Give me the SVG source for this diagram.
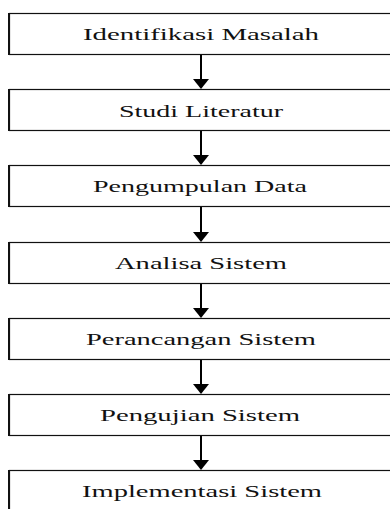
<svg xmlns="http://www.w3.org/2000/svg" width="390" height="509" viewBox="0 0 390 509">
<defs>
<style>
.box{fill:#fff;stroke:#111;stroke-width:1.2}
.edge{stroke:#111;stroke-width:2}
.lbl{font-family:"Liberation Serif","Times New Roman",serif;font-size:16px;fill:#111;text-anchor:middle}
.conn{stroke:#000;stroke-width:2;fill:none}
</style>
<marker id="ah" viewBox="0 -8 10 16" refX="0" refY="0" markerWidth="10" markerHeight="16" markerUnits="userSpaceOnUse" orient="auto">
<path d="M0,-8 L10,0 L0,8 z" fill="#000"/>
</marker>
</defs>
<rect width="390" height="509" fill="#fff"/>
<g id="connectors">
<line class="conn" x1="201" y1="54" x2="201" y2="79" marker-end="url(#ah)"/>
<line class="conn" x1="201" y1="130" x2="201" y2="155" marker-end="url(#ah)"/>
<line class="conn" x1="201" y1="206" x2="201" y2="232" marker-end="url(#ah)"/>
<line class="conn" x1="201" y1="283" x2="201" y2="308" marker-end="url(#ah)"/>
<line class="conn" x1="201" y1="359" x2="201" y2="384" marker-end="url(#ah)"/>
<line class="conn" x1="201" y1="435" x2="201" y2="460" marker-end="url(#ah)"/>
</g>
<g id="n1"><rect class="box" x="9.5" y="13.5" width="400" height="41"/><line class="edge" x1="9" y1="13" x2="9" y2="55"/><text class="lbl" x="201" y="39.5" textLength="236" lengthAdjust="spacingAndGlyphs">Identifikasi Masalah</text></g>
<g id="n2"><rect class="box" x="9.5" y="89.5" width="400" height="41"/><line class="edge" x1="9" y1="89" x2="9" y2="131"/><text class="lbl" x="201" y="116.5" textLength="164" lengthAdjust="spacingAndGlyphs">Studi Literatur</text></g>
<g id="n3"><rect class="box" x="9.5" y="165.5" width="400" height="41"/><line class="edge" x1="9" y1="165" x2="9" y2="207"/><text class="lbl" x="200" y="192" textLength="214" lengthAdjust="spacingAndGlyphs">Pengumpulan Data</text></g>
<g id="n4"><rect class="box" x="9.5" y="242.5" width="400" height="41"/><line class="edge" x1="9" y1="242" x2="9" y2="284"/><text class="lbl" x="201" y="269" textLength="172" lengthAdjust="spacingAndGlyphs">Analisa Sistem</text></g>
<g id="n5"><rect class="box" x="9.5" y="318.5" width="400" height="41"/><line class="edge" x1="9" y1="318" x2="9" y2="360"/><text class="lbl" x="201" y="345" textLength="230" lengthAdjust="spacingAndGlyphs">Perancangan Sistem</text></g>
<g id="n6"><rect class="box" x="9.5" y="394.5" width="400" height="41"/><line class="edge" x1="9" y1="394" x2="9" y2="436"/><text class="lbl" x="200" y="420.5" textLength="200" lengthAdjust="spacingAndGlyphs">Pengujian Sistem</text></g>
<g id="n7"><rect class="box" x="9.5" y="470.5" width="400" height="41"/><line class="edge" x1="9" y1="470" x2="9" y2="512"/><text class="lbl" x="202" y="497" textLength="240" lengthAdjust="spacingAndGlyphs">Implementasi Sistem</text></g>
</svg>
